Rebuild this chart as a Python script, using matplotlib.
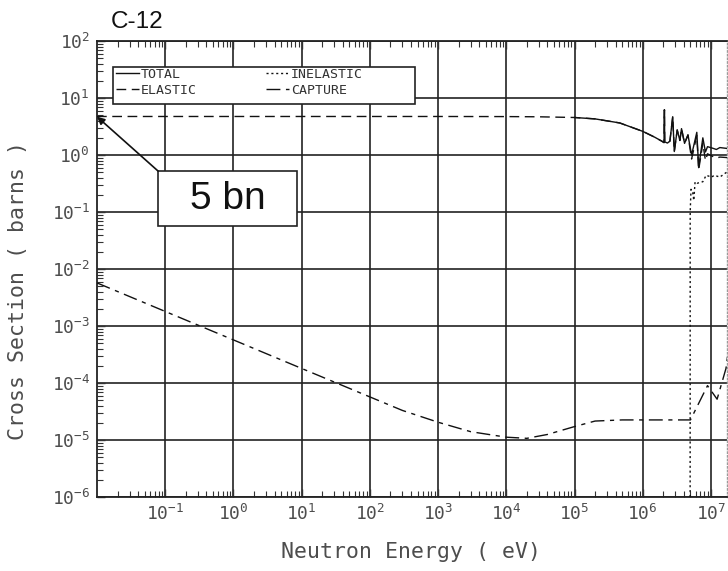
import matplotlib
matplotlib.use('Agg')
import matplotlib.pyplot as plt
from matplotlib.patches import Rectangle
from matplotlib.ticker import FixedLocator, FixedFormatter, LogLocator, NullFormatter

# ---------------- data ----------------
title = 'C-12'
x_label = 'Neutron Energy ( eV)'
y_label = 'Cross Section ( barns )'
annotation_text = '5 bn'
annotation_target = (1e-2, 4.7)

total_energy = [1e5, 2e5, 4.6e5, 1e6, 1.5e6, 1.9e6, 2.05e6, 2.078e6, 2.1e6, 2.3e6,
                2.5e6, 2.75e6, 2.9e6, 3.2e6, 3.5e6, 3.7e6, 4.1e6, 4.6e6, 5.2e6,
                6.2e6, 6.6e6, 7.6e6, 8.3e6, 8.9e6, 1.05e7, 1.2e7, 1.35e7, 1.75e7]
total_xs = [4.55, 4.3, 3.65, 2.6, 2.05, 1.75, 1.65, 6.2, 1.7, 1.62,
            1.75, 4.7, 1.15, 2.75, 1.8, 2.9, 1.6, 2.25, 1.0,
            2.5, 0.6, 2.0, 1.13, 1.4, 1.32, 1.25, 1.35, 1.3]

elastic_energy = [1e-2, 1e3, 1e4, 3e4, 1e5, 2e5, 4.6e5, 1e6, 1.5e6, 1.9e6, 2.05e6,
                  2.078e6, 2.1e6, 2.3e6, 2.5e6, 2.75e6, 2.9e6, 3.2e6, 3.5e6, 3.7e6,
                  4.1e6, 4.6e6, 5.2e6, 6.2e6, 6.6e6, 7.6e6, 8.3e6, 8.9e6, 1.05e7,
                  1.2e7, 1.35e7, 1.75e7]
elastic_xs = [4.74, 4.74, 4.72, 4.68, 4.55, 4.3, 3.65, 2.6, 2.05, 1.75, 1.65,
              6.2, 1.7, 1.62, 1.75, 4.7, 1.15, 2.75, 1.8, 2.9,
              1.6, 2.25, 0.85, 2.2, 0.55, 1.6, 0.8, 1.05, 0.95,
              0.88, 0.92, 0.9]

inelastic_energy = [4.95e6, 4.96e6, 5.1e6, 5.4e6, 5.6e6, 5.85e6, 6.3e6, 7.6e6,
                    8.5e6, 1.02e7, 1.12e7, 1.35e7, 1.7e7]
inelastic_xs = [1e-6, 0.1, 0.25, 0.22, 0.16, 0.34, 0.32, 0.34,
                0.44, 0.41, 0.44, 0.41, 0.5]

capture_energy = [1e-2, 1e-1, 1, 10, 100, 300, 1e3, 3e3, 1e4, 2e4, 4e4, 1e5, 2e5,
                  5e5, 5e6, 8.9e6, 1.23e7, 1.66e7, 2e7]
capture_xs = [5.7e-3, 1.8e-3, 5.7e-4, 1.8e-4, 5.7e-5, 3.3e-5, 2.05e-5, 1.4e-5,
              1.12e-5, 1.07e-5, 1.25e-5, 1.72e-5, 2.15e-5, 2.25e-5, 2.25e-5,
              9e-5, 5.2e-5, 1.8e-4, 1e-3]

x_tick_values = [1e-1, 1e0, 1e1, 1e2, 1e3, 1e4, 1e5, 1e6, 1e7]
x_tick_labels = ['10$^{-1}$', '10$^{0}$', '10$^{1}$', '10$^{2}$', '10$^{3}$',
                 '10$^{4}$', '10$^{5}$', '10$^{6}$', '10$^{7}$']
y_tick_values = [1e-6, 1e-5, 1e-4, 1e-3, 1e-2, 1e-1, 1e0, 1e1, 1e2]
y_tick_labels = ['10$^{-6}$', '10$^{-5}$', '10$^{-4}$', '10$^{-3}$', '10$^{-2}$',
                 '10$^{-1}$', '10$^{0}$', '10$^{1}$', '10$^{2}$']

legend_labels = ['TOTAL', 'ELASTIC', 'INELASTIC', 'CAPTURE']

# ---------------- style ----------------
plt.rcParams['mathtext.default'] = 'regular'
W, H = 728, 571
fig = plt.figure(figsize=(W / 100, H / 100), dpi=100)

def fx(px):
    return px / W

def fy(py):
    return 1 - py / H

ax_left, ax_right, ax_top, ax_bottom = 97, 727, 41, 497
ax = fig.add_axes([fx(ax_left), fy(ax_bottom), fx(ax_right - ax_left), (ax_bottom - ax_top) / H])
ax.set_xscale('log')
ax.set_yscale('log')
ax.set_xlim(1e-2, 10 ** 7.235)
ax.set_ylim(1e-6, 1e2)

ink = '#111111'
lw = 1.0
l_total, = ax.plot(total_energy, total_xs, color=ink, lw=lw, zorder=3)
l_el, = ax.plot(elastic_energy, elastic_xs, color=ink, lw=lw, dashes=(7, 4), zorder=3)
l_in, = ax.plot(inelastic_energy, inelastic_xs, color=ink, lw=lw, dashes=(1.5, 2), zorder=3)
l_cap, = ax.plot(capture_energy, capture_xs, color=ink, lw=lw, dashes=(10, 4, 3, 4), zorder=3)

# grid
ax.grid(True, which='major', color='#222222', lw=1.2)
ax.set_axisbelow(True)

# ticks
label_color = '#4d4d4d'
tick_font = dict(family='DejaVu Sans Mono', size=13)
ax.xaxis.set_major_locator(FixedLocator(x_tick_values))
ax.xaxis.set_major_formatter(FixedFormatter(x_tick_labels))
ax.yaxis.set_major_locator(FixedLocator(y_tick_values))
ax.yaxis.set_major_formatter(FixedFormatter(y_tick_labels))
ax.xaxis.set_minor_locator(LogLocator(base=10, subs=range(2, 10), numticks=30))
ax.yaxis.set_minor_locator(LogLocator(base=10, subs=range(2, 10), numticks=30))
ax.xaxis.set_minor_formatter(NullFormatter())
ax.yaxis.set_minor_formatter(NullFormatter())
ax.tick_params(which='both', direction='in', top=True, right=False, left=True, bottom=True,
               color='#333333')
ax.tick_params(which='major', length=6, width=1.0, pad=5, labelcolor=label_color)
ax.tick_params(which='minor', length=4.5, width=0.8)
for t in ax.get_xticklabels() + ax.get_yticklabels():
    t.set_fontfamily('DejaVu Sans Mono')
    t.set_fontsize(13)

for s in ['left', 'bottom', 'top']:
    ax.spines[s].set_color('#222222')
    ax.spines[s].set_linewidth(1.3)
ax.spines['right'].set_color('#9a9a9a')
ax.spines['right'].set_linestyle(':')
ax.spines['right'].set_linewidth(1.0)

# axis labels
fig.text(fx(411), fy(552), x_label, ha='center', va='center', color=label_color,
         family='DejaVu Sans Mono', fontsize=15.5)
fig.text(fx(18), fy(290), y_label, ha='center', va='center', rotation=90,
         color=label_color, family='DejaVu Sans Mono', fontsize=15.5)

# title
fig.text(fx(111), fy(28), title, ha='left', va='baseline', fontsize=17.5,
         family='Liberation Sans', color='#111111')

# legend frame + legend
ax.add_patch(Rectangle((fx(113), fy(104)), fx(302), 37 / H, transform=fig.transFigure,
                       facecolor='white', edgecolor='#222222', lw=1.2, zorder=4))
leg = ax.legend([l_total, l_el, l_in, l_cap], legend_labels, ncol=2, frameon=False,
                loc='upper left', bbox_to_anchor=(fx(116), fy(68)),
                bbox_transform=fig.transFigure, borderpad=0, borderaxespad=0,
                handlelength=1.75, handletextpad=0.1, columnspacing=5.3,
                labelspacing=0.2,
                prop=dict(family='DejaVu Sans Mono', size=9.5))
for t in leg.get_texts():
    t.set_color('#333333')
leg.set_zorder(5)

# annotation box with arrow
ax.add_patch(Rectangle((fx(158), fy(226)), fx(139), 55 / H, transform=fig.transFigure,
                       facecolor='white', edgecolor='#222222', lw=1.2, zorder=6,
                       clip_on=False))
fig.text(fx(227.5), fy(199), annotation_text, ha='center', va='center', fontsize=28,
         family='Liberation Sans', color='#111111', zorder=7)
ax.annotate('', xy=annotation_target, xycoords='data',
            xytext=(fx(158), fy(171)), textcoords='figure fraction',
            arrowprops=dict(arrowstyle='-|>', color='#111111', lw=1.2,
                            mutation_scale=11, shrinkA=0, shrinkB=0),
            annotation_clip=False, zorder=6)

fig.savefig('out.png', dpi=100)
